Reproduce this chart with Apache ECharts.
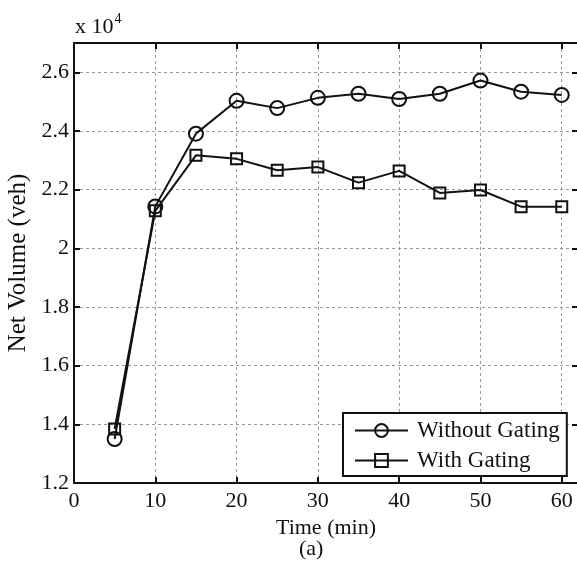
<!DOCTYPE html>
<html>
<head>
<meta charset="utf-8">
<script src="https://cdn.jsdelivr.net/npm/echarts@6/dist/echarts.min.js"></script>
<style>
html,body{margin:0;padding:0;background:#fff;}
#c{width:577px;height:573px;}
</style>
</head>
<body>
<div id="c"></div>
<script>
const timeMin = [5, 10, 15, 20, 25, 30, 35, 40, 45, 50, 55, 60];
const withoutGating = [1.350, 2.143, 2.391, 2.503, 2.478, 2.513, 2.527, 2.509, 2.527, 2.572, 2.534, 2.523];
const withGating = [1.384, 2.128, 2.317, 2.305, 2.266, 2.277, 2.224, 2.264, 2.189, 2.199, 2.142, 2.142];
const xTickLabels = ['0', '10', '20', '30', '40', '50', '60'];
const yTickLabels = ['1.2', '1.4', '1.6', '1.8', '2', '2.2', '2.4', '2.6'];
const seriesNames = ['Without Gating', 'With Gating'];

const FONT = 'Liberation Serif';
const chart = echarts.init(document.getElementById('c'), null, {renderer: 'canvas'});

const pair = (xs, ys) => xs.map((x, i) => [x, ys[i]]);
const gridLine = {show: true, lineStyle: {color: '#9a9a9a', width: 1, type: [3, 3]}};

const xLabelFmt = v => { const s = String(Math.round(v)); return xTickLabels.includes(s) && Math.abs(v - Math.round(v)) < 1e-9 ? s : ''; };
const yLabelFmt = v => { const s = String(+v.toFixed(1)); return yTickLabels.includes(s) ? s : ''; };

chart.setOption({
  backgroundColor: '#fff',
  animation: false,
  grid: {left: 74, top: 43, right: -1, bottom: 90, containLabel: false, outerBoundsMode: 'none'},
  xAxis: [{
    type: 'value', min: 0, max: 62, interval: 10,
    name: 'Time (min)', nameLocation: 'middle', nameGap: 22,
    nameTextStyle: {fontFamily: FONT, fontSize: 22, color: '#111'},
    axisLine: {show: true, onZero: false, lineStyle: {color: '#111', width: 2}},
    axisTick: {show: true, inside: true, length: 6, lineStyle: {color: '#111', width: 2}},
    axisLabel: {fontFamily: FONT, fontSize: 22, color: '#111', margin: 7, formatter: xLabelFmt, showMaxLabel: false},
    splitLine: gridLine
  }, {
    type: 'value', min: 0, max: 62, interval: 10, position: 'top',
    axisLine: {show: true, onZero: false, lineStyle: {color: '#111', width: 2}},
    axisTick: {show: true, inside: true, length: 6, lineStyle: {color: '#111', width: 2}},
    axisLabel: {show: false}, splitLine: {show: false}
  }],
  yAxis: [{
    type: 'value', min: 1.2, max: 2.7, interval: 0.2,
    name: 'Net Volume (veh)', nameLocation: 'middle', nameGap: 42, nameRotate: 90,
    nameTextStyle: {fontFamily: FONT, fontSize: 25, color: '#111'},
    axisLine: {show: true, onZero: false, lineStyle: {color: '#111', width: 2}},
    axisTick: {show: true, inside: true, length: 6, lineStyle: {color: '#111', width: 2}},
    axisLabel: {fontFamily: FONT, fontSize: 22, color: '#111', margin: 5, formatter: yLabelFmt, showMaxLabel: false},
    splitLine: gridLine
  }, {
    type: 'value', min: 1.2, max: 2.7, interval: 0.2, position: 'right',
    axisLine: {show: true, onZero: false, lineStyle: {color: '#111', width: 2}},
    axisTick: {show: true, inside: true, length: 6, lineStyle: {color: '#111', width: 2}},
    axisLabel: {show: false}, splitLine: {show: false}
  }],
  legend: {
    show: true, orient: 'vertical', left: 343, top: 413,
    data: seriesNames,
    itemWidth: 53, itemHeight: 16, itemGap: 7,
    padding: [6, 7, 4, 11],
    borderColor: '#111', borderWidth: 2, backgroundColor: '#fff',
    textStyle: {fontFamily: FONT, fontSize: 23, color: '#111', padding: [0, 0, 0, 4]}
  },
  series: [{
    name: seriesNames[0], type: 'line', data: pair(timeMin, withoutGating),
    symbol: 'circle', symbolSize: 14, showAllSymbol: true,
    lineStyle: {color: '#111', width: 2},
    itemStyle: {color: 'rgba(0,0,0,0)', borderColor: '#111', borderWidth: 2},
    z: 3
  }, {
    name: seriesNames[1], type: 'line', data: pair(timeMin, withGating),
    symbol: 'rect', symbolSize: 11, showAllSymbol: true,
    lineStyle: {color: '#111', width: 2},
    itemStyle: {color: 'rgba(0,0,0,0)', borderColor: '#111', borderWidth: 2},
    z: 3
  }],
  graphic: [{
    type: 'text', left: 75, top: 12,
    style: {
      text: '{b|x 10}{s|4}',
      rich: {
        b: {fontFamily: FONT, fontSize: 22, fill: '#111', verticalAlign: 'bottom'},
        s: {fontFamily: FONT, fontSize: 14, fill: '#111', verticalAlign: 'top', padding: [0, 0, 12, 1]}
      }
    }
  }, {
    type: 'text', left: 299, top: 538,
    style: {text: '(a)', fontFamily: FONT, fontSize: 22, fill: '#111'}
  }]
});
</script>
</body>
</html>
